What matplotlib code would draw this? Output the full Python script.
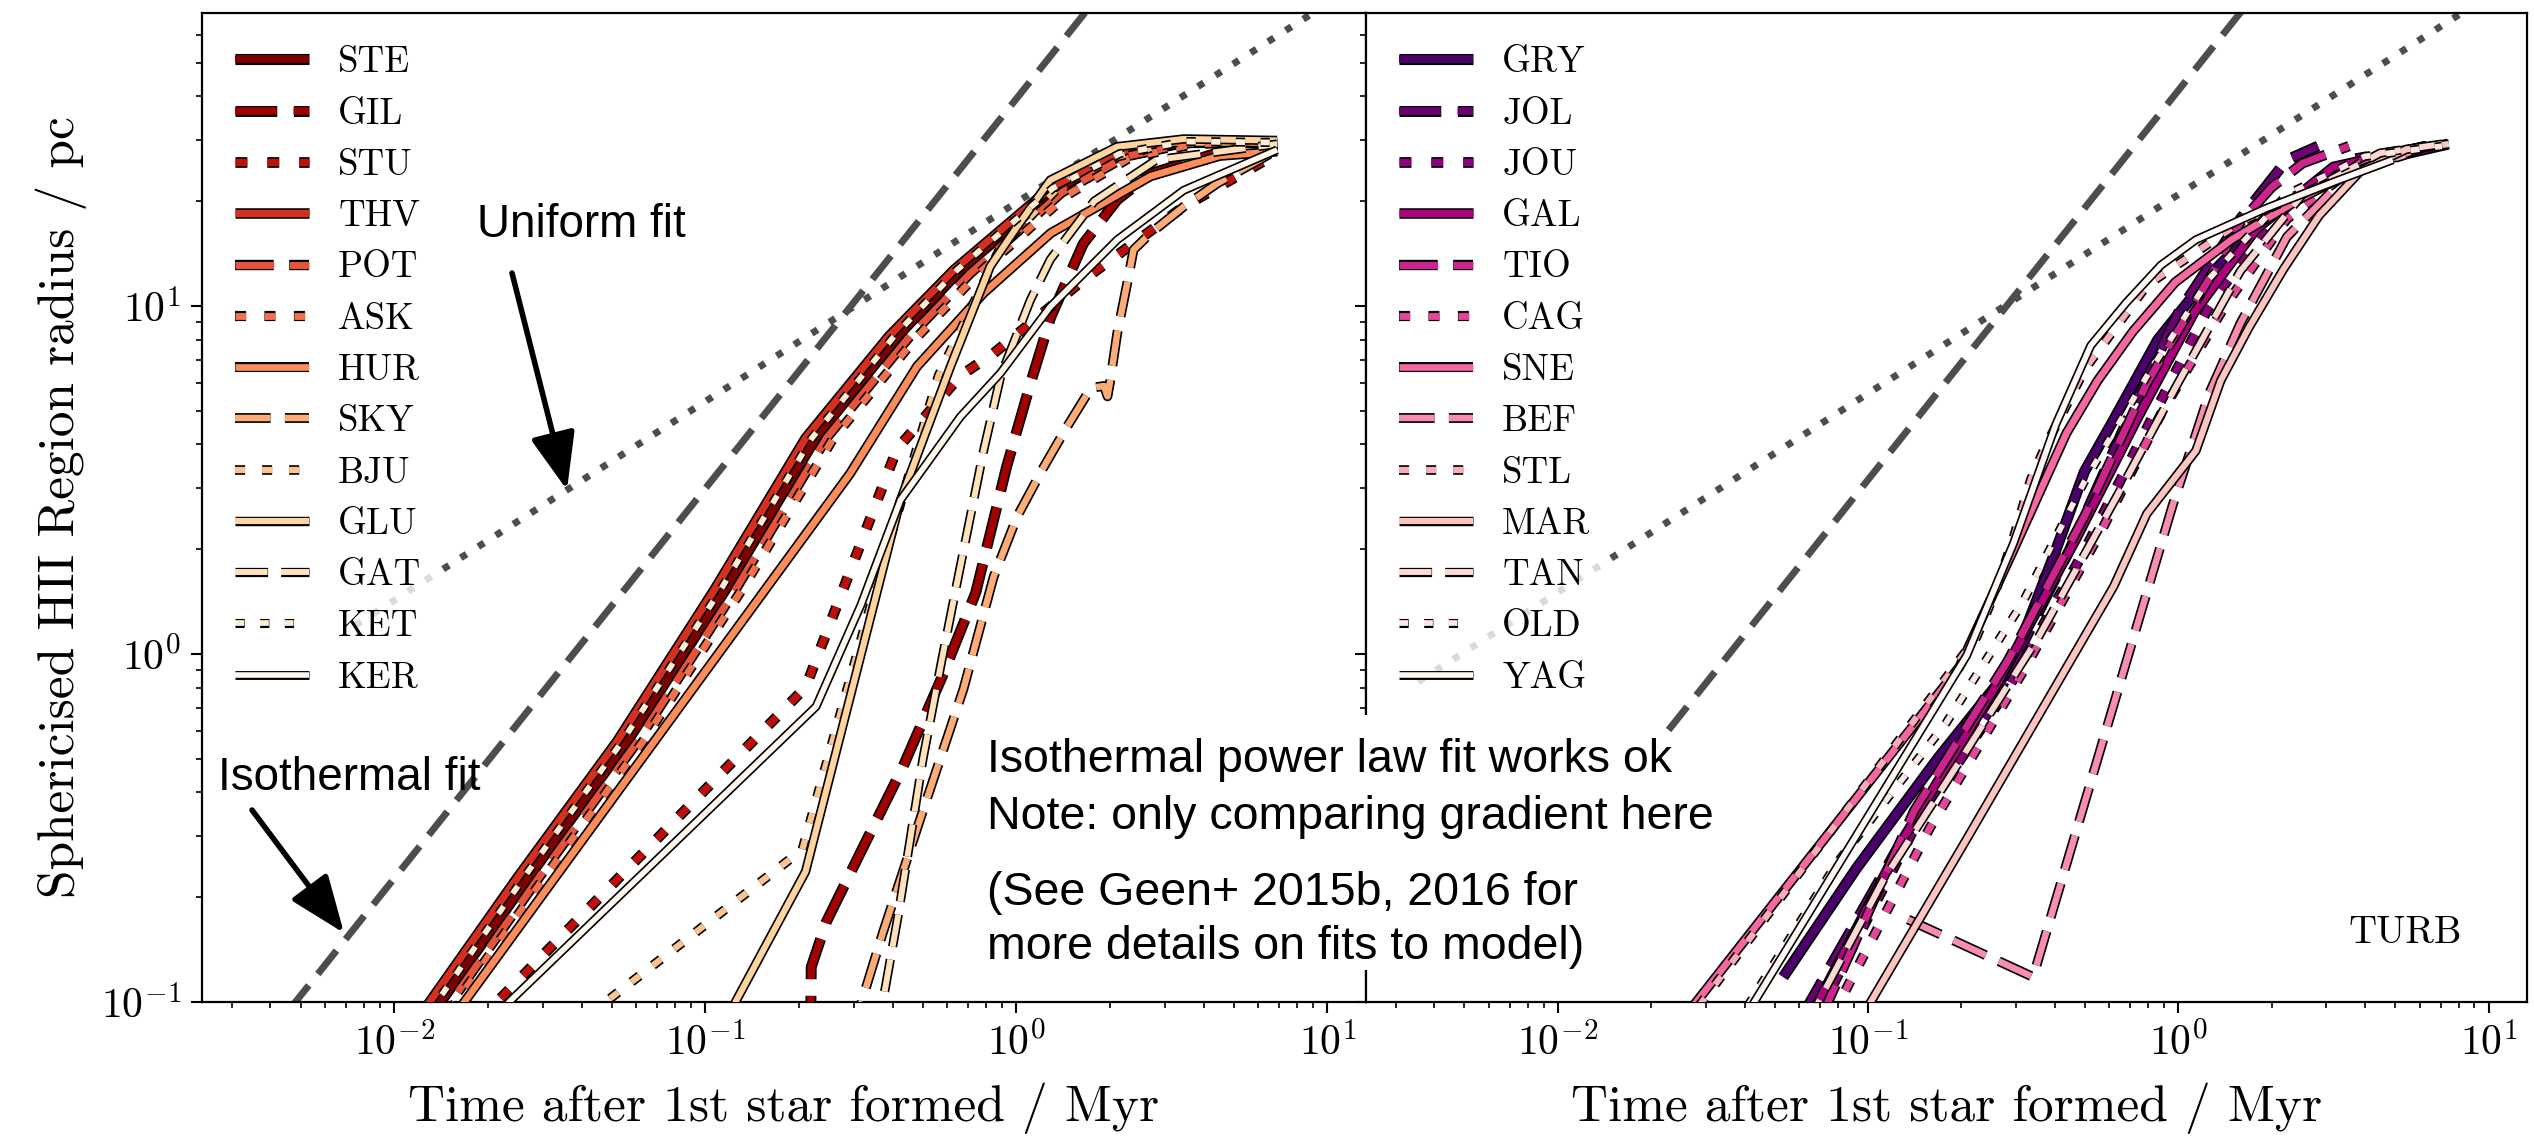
import numpy as np
import matplotlib
matplotlib.use("Agg")
import matplotlib.pyplot as plt
import matplotlib.patheffects as pe
from matplotlib.patches import Rectangle, FancyArrowPatch
from matplotlib.ticker import FuncFormatter, LogLocator, NullFormatter

plt.rcParams['mathtext.fontset'] = 'cm'
plt.rcParams['font.family'] = 'serif'
plt.rcParams['font.serif'] = ['cmr10', 'DejaVu Serif']
plt.rcParams['axes.unicode_minus'] = False

# ---- left panel runs (time in Myr, radius in pc) ----
ste_t = [0.0119, 0.0141, 0.0271, 0.056, 0.116, 0.226, 0.415, 0.66, 1.33, 2.18, 3.55, 6.7]
ste_r = [0.08, 0.1, 0.229, 0.56, 1.53, 4.17, 8.2, 12.7, 21.6, 27.2, 29.6, 29.4]
gil_t = [0.218, 0.219, 0.245, 0.318, 0.43, 0.58, 0.74, 0.93, 1.11, 1.29, 1.64, 2.11, 2.7, 4.4, 6.9]
gil_r = [0.079, 0.126, 0.17, 0.273, 0.47, 0.87, 1.5, 3.45, 6.0, 9.3, 15.1, 20.2, 24.0, 27.5, 29.0]
stu_t = [0.0158, 0.0214, 0.21, 0.413, 0.661, 0.845, 1.644, 3.45, 6.92]
stu_r = [0.0759, 0.1, 0.802, 3.88, 6.31, 7.31, 11.9, 19.3, 27.5]
thv_t = [0.011, 0.013, 0.025, 0.052, 0.107, 0.21, 0.39, 0.63, 1.29, 2.1, 3.45, 6.9]
thv_r = [0.08, 0.1, 0.229, 0.56, 1.53, 4.17, 8.2, 12.7, 21.9, 27.5, 29.8, 29.3]
pot_t = [0.0126, 0.0152, 0.0293, 0.0605, 0.125, 0.245, 0.45, 0.71, 1.4, 2.25, 3.6, 6.6]
pot_r = [0.08, 0.1, 0.229, 0.56, 1.53, 4.17, 8.1, 12.4, 21.2, 26.9, 29.4, 29.6]
ask_t = [0.0132, 0.0158, 0.0305, 0.063, 0.131, 0.258, 0.47, 0.74, 1.45, 2.3, 3.7, 6.5]
ask_r = [0.08, 0.1, 0.229, 0.56, 1.53, 4.17, 8.0, 12.2, 20.8, 26.6, 29.2, 29.7]
hur_t = [0.0143, 0.0168, 0.0398, 0.1, 0.292, 0.479, 0.785, 1.29, 2.7, 4.5, 6.9]
hur_r = [0.08, 0.1, 0.288, 0.89, 3.3, 6.7, 10.9, 16.2, 23.6, 27.0, 27.8]
sky_t = [0.309, 0.318, 0.372, 0.501, 0.676, 0.845, 1.005, 1.225, 1.455, 1.644, 1.738,
         1.914, 1.963, 2.004, 2.109, 2.27, 2.38, 2.7, 3.45, 4.42, 6.89]
sky_r = [0.0794, 0.1, 0.158, 0.355, 0.794, 1.667, 2.48, 3.45, 4.5, 5.37, 5.82,
         5.89, 5.5, 6.12, 8.34, 11.6, 14.5, 16.2, 19.3, 22.5, 28.1]
bju_t = [0.0398, 0.0478, 0.205, 0.355, 0.562, 0.891, 1.585, 3.16, 6.6]
bju_r = [0.0759, 0.1, 0.274, 1.585, 6.31, 14.8, 25.1, 29.5, 29.5]
glu_t = [0.1202, 0.125, 0.21, 0.424, 0.614, 0.824, 1.005, 1.285, 2.11, 3.45, 6.89]
glu_r = [0.0794, 0.1, 0.237, 2.77, 6.7, 13.0, 16.9, 23.0, 28.7, 30.2, 29.9]
gat_t = [0.363, 0.372, 0.417, 0.501, 0.575, 0.644, 0.711, 0.785, 0.891, 1.109, 1.285, 1.778, 2.82, 6.89]
gat_r = [0.0794, 0.1, 0.178, 0.501, 0.955, 1.596, 2.48, 3.85, 6.31, 10.4, 13.6, 20.0, 26.3, 29.2]
ket_t = [0.0116, 0.0137, 0.0262, 0.054, 0.112, 0.22, 0.405, 0.645, 1.31, 2.15, 3.5, 6.8]
ket_r = [0.08, 0.1, 0.229, 0.56, 1.53, 4.17, 8.2, 12.7, 21.8, 27.4, 29.7, 29.5]
ker_t = [0.0178, 0.0234, 0.227, 0.316, 0.424, 0.661, 0.887, 1.285, 2.11, 3.45, 6.89]
ker_r = [0.0708, 0.1, 0.706, 1.38, 2.77, 4.81, 6.4, 9.95, 15.5, 21.5, 28.1]

# ---- right panel runs (TURB) ----
gry_t = [0.0533, 0.092, 0.1675, 0.289, 0.401, 0.498, 0.619, 0.859, 1.256, 1.995, 3.55, 7.41]
gry_r = [0.118, 0.243, 0.5, 0.918, 1.963, 3.34, 4.71, 8.0, 12.2, 18.6, 25.1, 29.2]
jol_t = [0.0525, 0.0562, 0.126, 0.251, 0.447, 0.708, 1.0, 1.585, 2.24, 2.82]
jol_r = [0.063, 0.0794, 0.282, 0.708, 2.0, 5.01, 9.55, 17.8, 26.3, 28.8]
jou_t = [0.0589, 0.0631, 0.141, 0.282, 0.501, 0.794, 1.259, 1.995, 3.55, 6.31]
jou_r = [0.063, 0.0794, 0.316, 0.794, 2.0, 4.47, 10.0, 17.8, 26.3, 28.8]
gal_t = [0.0562, 0.0603, 0.132, 0.263, 0.468, 0.741, 1.122, 1.778, 3.16, 6.31]
gal_r = [0.063, 0.0794, 0.302, 0.832, 2.14, 4.79, 9.55, 16.6, 25.1, 28.8]
tio_t = [0.0617, 0.0661, 0.141, 0.282, 0.501, 0.794, 1.259, 1.585, 1.995, 2.512, 3.548]
tio_r = [0.063, 0.0794, 0.355, 0.955, 2.51, 6.03, 12.0, 17.4, 21.9, 25.7, 28.8]
cag_t = [0.0661, 0.0708, 0.158, 0.316, 0.562, 0.891, 1.413, 2.239, 3.98, 6.31]
cag_r = [0.063, 0.0794, 0.316, 0.891, 2.24, 5.01, 10.0, 17.8, 26.3, 28.8]
sne_t = [0.0191, 0.0211, 0.197, 0.295, 0.436, 0.55, 0.714, 0.977, 1.483, 2.49, 3.69, 4.79, 6.3]
sne_r = [0.063, 0.0726, 0.918, 2.0, 4.31, 6.11, 8.45, 11.7, 15.5, 20.4, 24.5, 27.5, 28.8]
bef_t = [0.1346, 0.3404, 0.957, 1.259, 1.585, 2.239, 3.548, 6.31]
bef_r = [0.1726, 0.118, 2.66, 5.62, 8.91, 15.8, 24.0, 28.8]
stl_t = [0.02, 0.024, 0.178, 0.224, 0.258, 0.294, 0.335, 0.372, 0.501, 0.794, 1.585, 3.16, 5.62]
stl_r = [0.063, 0.0794, 0.851, 1.12, 1.52, 2.15, 3.18, 3.93, 6.61, 11.5, 17.4, 23.4, 27.5]
mar_t = [0.0794, 0.0826, 0.208, 0.359, 0.619, 0.792, 1.14, 1.371, 1.687, 2.188, 2.844, 3.88, 5.43, 7.45]
mar_r = [0.063, 0.0726, 0.294, 0.678, 1.563, 2.53, 3.84, 6.11, 8.65, 12.8, 18.2, 24.5, 28.2, 29.2]
tan_t = [0.0562, 0.0603, 0.112, 0.2, 0.355, 0.631, 1.0, 1.585, 2.512, 4.467, 7.08]
tan_r = [0.063, 0.0794, 0.224, 0.501, 1.122, 2.818, 6.03, 12.6, 20.9, 27.5, 29.2]
old_t = [0.0316, 0.0355, 0.0794, 0.178, 0.316, 0.501, 0.794, 1.259, 2.239, 3.98, 7.08]
old_r = [0.063, 0.0794, 0.251, 0.631, 1.413, 3.16, 6.31, 12.0, 20.9, 26.9, 28.8]
yag_t = [0.0316, 0.0345, 0.208, 0.295, 0.403, 0.522, 0.678, 0.879, 1.14, 1.923, 3.24, 4.91]
yag_r = [0.063, 0.0726, 0.99, 2.09, 4.57, 7.69, 10.2, 13.1, 15.5, 19.1, 22.9, 26.3]

left_names = ["STE", "GIL", "STU", "THV", "POT", "ASK", "HUR", "SKY", "BJU", "GLU", "GAT", "KET", "KER"]
right_names = ["GRY", "JOL", "JOU", "GAL", "TIO", "CAG", "SNE", "BEF", "STL", "MAR", "TAN", "OLD", "YAG"]

# power-law fit lines (end points)
uni_left_t = [0.0075, 15.8]
uni_left_r = [1.21, 96.0]
iso_left_t = [0.0025, 2.5]
iso_left_r = [0.048, 110.0]
uni_right_t = [0.00355, 19.95]
uni_right_r = [0.832, 115.6]
iso_right_t = [0.01, 2.5]
iso_right_r = [0.241, 116.0]

left_runs = [(ste_t, ste_r), (gil_t, gil_r), (stu_t, stu_r), (thv_t, thv_r), (pot_t, pot_r),
             (ask_t, ask_r), (hur_t, hur_r), (sky_t, sky_r), (bju_t, bju_r), (glu_t, glu_r),
             (gat_t, gat_r), (ket_t, ket_r), (ker_t, ker_r)]
right_runs = [(gry_t, gry_r), (jol_t, jol_r), (jou_t, jou_r), (gal_t, gal_r), (tio_t, tio_r),
              (cag_t, cag_r), (sne_t, sne_r), (bef_t, bef_r), (stl_t, stl_r), (mar_t, mar_r),
              (tan_t, tan_r), (old_t, old_r), (yag_t, yag_r)]

styles = [(0, ()), (0, (5.5, 2.2)), (0, (1.6, 2.7))]
widths = np.linspace(5.6, 4.0, 13)

W, H = 2534, 1138
fig = plt.figure(figsize=(W / 100, H / 100), dpi=100)
ax_l = fig.add_axes([202 / W, 1 - 1002 / H, (1366 - 202) / W, (1002 - 13) / H])
ax_r = fig.add_axes([1366 / W, 1 - 1002 / H, (2527 - 1366) / W, (1002 - 13) / H])


def draw_runs(ax, runs, names, cmap):
    cols = cmap(np.linspace(1.0, 0.0, len(runs)))
    for i, ((t, r), name) in enumerate(zip(runs, names)):
        lw = widths[i]
        ax.plot(t, r, color=cols[i], lw=lw, linestyle=styles[i % 3], label=name,
                path_effects=[pe.Stroke(linewidth=lw + 2.4, foreground='k'), pe.Normal()],
                zorder=3)


fitcol = '#4d4d4d'
ax_l.plot(uni_left_t, uni_left_r, color=fitcol, lw=5, linestyle=(0, (1, 2)), zorder=2)
ax_l.plot(iso_left_t, iso_left_r, color=fitcol, lw=5, linestyle=(0, (4.3, 2.1)), zorder=2)
ax_r.plot(uni_right_t, uni_right_r, color=fitcol, lw=5, linestyle=(0, (1, 2)), zorder=2)
ax_r.plot(iso_right_t, iso_right_r, color=fitcol, lw=5, linestyle=(0, (4.3, 2.1)), zorder=2)

draw_runs(ax_l, left_runs, left_names, plt.cm.OrRd)
draw_runs(ax_r, right_runs, right_names, plt.cm.RdPu)

for ax in (ax_l, ax_r):
    ax.set_xscale('log')
    ax.set_yscale('log')
    ax.set_xlim(0.00241, 13.3)
    ax.set_ylim(0.1, 69.5)
    for s in ax.spines.values():
        s.set_linewidth(1.6)
    ax.tick_params(which='major', direction='out', length=8, width=1.5, labelsize=30, pad=7)
    ax.tick_params(which='minor', direction='out', length=4.5, width=1.2)
    ax.xaxis.set_major_locator(LogLocator(base=10, numticks=20))
    ax.xaxis.set_major_formatter(FuncFormatter(lambda v, p: r"$10^{%d}$" % round(np.log10(v))))
    ax.yaxis.set_major_formatter(FuncFormatter(lambda v, p: r"$10^{%d}$" % round(np.log10(v))))
    ax.xaxis.set_minor_formatter(NullFormatter())
    ax.yaxis.set_minor_formatter(NullFormatter())
    ax.set_xlabel("Time after 1st star formed / Myr", fontsize=37, labelpad=14)
    leg = ax.legend(loc='upper left', fontsize=26.5, frameon=True, framealpha=0.8,
                    fancybox=False, handlelength=2.0, labelspacing=0.49)
    leg.get_frame().set_edgecolor('none')

ax_r.tick_params(axis='y', labelleft=False)
ax_l.set_ylabel("Sphericised HII Region radius / pc", fontsize=37, labelpad=10)
ax_r.text(0.895, 0.06, "TURB", transform=ax_r.transAxes, fontsize=28, ha='center', va='baseline')

# overlay notes
sans = ['Liberation Sans', 'DejaVu Sans']
fig.patches.append(Rectangle((975 / W, 1 - 970 / H), (1665 - 975) / W, (970 - 715) / H,
                             transform=fig.transFigure, facecolor='white', edgecolor='none', zorder=2))
fig.text(477 / W, 1 - 237 / H, "Uniform fit", family=sans, fontsize=33, va='baseline', zorder=4)
fig.text(218 / W, 1 - 790 / H, "Isothermal fit", family=sans, fontsize=33, va='baseline', zorder=4)
notes = [("Isothermal power law fit works ok", 772), ("Note: only comparing gradient here", 829),
         ("(See Geen+ 2015b, 2016 for", 905), ("more details on fits to model)", 959)]
for txt, yb in notes:
    fig.text(987 / W, 1 - yb / H, txt, family=sans, fontsize=33.5, va='baseline', zorder=4)

for (x0, y0), (x1, y1) in [((512, 273), (567, 490)), ((252, 810), (344, 933))]:
    fig.add_artist(FancyArrowPatch((x0 / W, 1 - y0 / H), (x1 / W, 1 - y1 / H),
                                   transform=fig.transFigure, arrowstyle='-|>,head_length=1.4,head_width=0.55',
                                   mutation_scale=25, lw=4, color='k', shrinkA=0, shrinkB=0, zorder=4))

fig.savefig("out.png", dpi=100)
